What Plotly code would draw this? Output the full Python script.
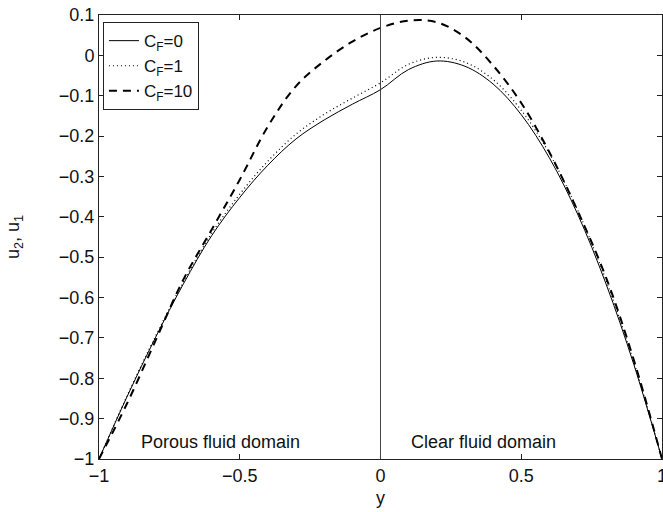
import plotly.graph_objects as go

# transverse coordinate y (porous domain -1..0, clear domain 0..1)
y_vals = [-1.0, -0.9, -0.8, -0.7, -0.6, -0.5, -0.4, -0.3, -0.2, -0.1, 0.0,
          0.1, 0.2, 0.3, 0.4, 0.5, 0.6, 0.7, 0.8, 0.9, 1.0]

u_cf0 = [-1.000, -0.845, -0.700, -0.566, -0.447, -0.352, -0.272, -0.207, -0.160, -0.121, -0.085,
         -0.035, -0.014, -0.027, -0.071, -0.147, -0.254, -0.393, -0.564, -0.766, -1.000]
u_cf1 = [-1.000, -0.843, -0.697, -0.561, -0.441, -0.344, -0.262, -0.195, -0.146, -0.106, -0.068,
         -0.022, -0.005, -0.017, -0.060, -0.136, -0.243, -0.383, -0.555, -0.760, -1.000]
u_cf10 = [-1.000, -0.862, -0.708, -0.555, -0.432, -0.308, -0.176, -0.076, -0.014, 0.034, 0.068,
          0.086, 0.082, 0.045, -0.025, -0.118, -0.240, -0.385, -0.548, -0.755, -1.000]

series_names = ["C<sub>F</sub>=0", "C<sub>F</sub>=1", "C<sub>F</sub>=10"]
interface_y = 0.0

x_tickvals = [-1, -0.5, 0, 0.5, 1]
x_ticktext = ["\u22121", "\u22120.5", "0", "0.5", "1"]
y_tickvals = [0.1, 0.0, -0.1, -0.2, -0.3, -0.4, -0.5, -0.6, -0.7, -0.8, -0.9, -1.0]
y_ticktext = ["0.1", "0", "\u22120.1", "\u22120.2", "\u22120.3", "\u22120.4", "\u22120.5",
              "\u22120.6", "\u22120.7", "\u22120.8", "\u22120.9", "\u22121"]

FONT = "Liberation Sans, Arial, Helvetica, sans-serif"

fig = go.Figure()
fig.add_trace(go.Scatter(x=y_vals, y=u_cf0, mode="lines", name=series_names[0],
                         line=dict(color="black", width=1, shape="spline", smoothing=1.0)))
fig.add_trace(go.Scatter(x=y_vals, y=u_cf1, mode="lines", name=series_names[1],
                         line=dict(color="black", width=1.2, dash="1px,3px", shape="spline", smoothing=1.0)))
fig.add_trace(go.Scatter(x=y_vals, y=u_cf10, mode="lines", name=series_names[2],
                         line=dict(color="black", width=2, dash="8px,6px", shape="spline", smoothing=1.0)))

fig.add_shape(type="line", xref="x", yref="paper", x0=interface_y, x1=interface_y, y0=0, y1=1,
              line=dict(color="#444", width=1))

fig.add_annotation(x=-0.57, y=-0.958, xref="x", yref="y", text="Porous fluid domain",
                   showarrow=False, font=dict(family=FONT, size=18, color="#111"),
                   xanchor="center", yanchor="middle")
fig.add_annotation(x=0.365, y=-0.958, xref="x", yref="y", text="Clear fluid domain",
                   showarrow=False, font=dict(family=FONT, size=18, color="#111"),
                   xanchor="center", yanchor="middle")

axis_common = dict(showline=True, linecolor="#222", linewidth=1, mirror="ticks",
                   ticks="inside", ticklen=5, tickcolor="#222", tickwidth=1,
                   showgrid=False, zeroline=False, ticklabeloverflow="allow",
                   automargin=False,
                   tickfont=dict(family=FONT, size=18, color="#111"))

fig.update_xaxes(range=[-1, 1], tickvals=x_tickvals, ticktext=x_ticktext,
                 title=dict(text="y", font=dict(family=FONT, size=18, color="#111"), standoff=6),
                 **axis_common)
fig.update_yaxes(range=[-1, 0.1], tickvals=y_tickvals, ticktext=y_ticktext,
                 title=dict(text="u<sub>2</sub>, u<sub>1</sub>", font=dict(family=FONT, size=18, color="#111"),
                            standoff=34),
                 **axis_common)

fig.update_layout(
    width=663, height=512,
    margin=dict(l=99, r=1, t=15, b=53),
    paper_bgcolor="white", plot_bgcolor="white",
    showlegend=True,
    legend=dict(x=0.007, y=0.984, xanchor="left", yanchor="top",
                bgcolor="white", bordercolor="#222", borderwidth=1,
                font=dict(family=FONT, size=17, color="#111"),
                tracegroupgap=0, itemwidth=30),
)

fig.write_html("out.html")
